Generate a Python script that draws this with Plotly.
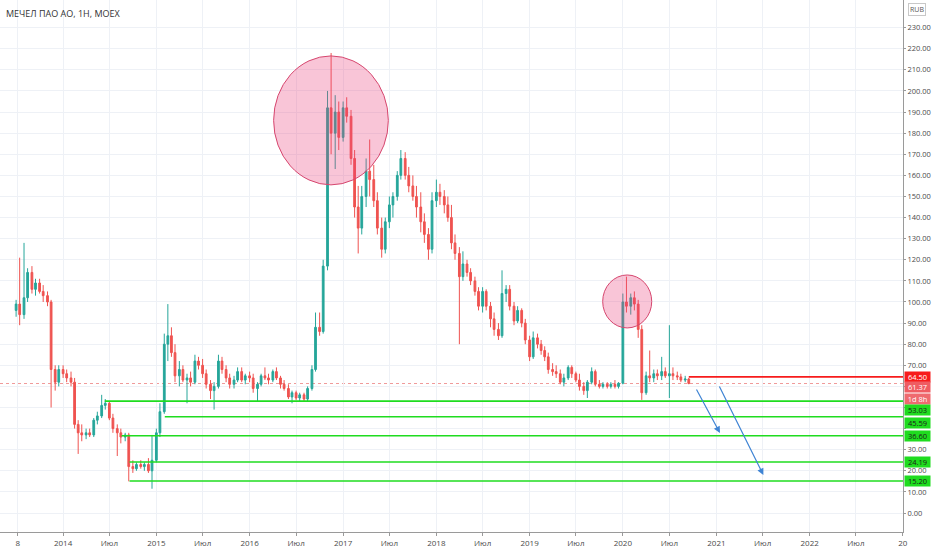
import pandas as pd
import plotly.graph_objects as go

# semi-monthly candles, Jul 2013 .. Sep 2020
dates = pd.date_range("2013-07-01", "2020-09-15", freq="SMS")

opens = [
    96, 99, 94, 102, 114, 106, 109, 105, 103, 100, 68, 62,  # 2013 H2
    68, 66, 64, 62, 42, 38, 37, 38, 37, 44, 46, 51, 52, 45, 40, 38, 36, 37, 22, 21, 23, 22, 23, 20,  # 2014
    25, 38, 48, 80, 84, 76, 65, 68, 63, 64, 62, 72, 70, 66, 61, 58, 60, 72, 68, 64, 61, 63, 67, 63,  # 2015
    65, 64, 59, 61, 65, 64, 63, 67, 64, 61, 59, 55, 57, 54.5, 56, 54, 59, 68, 88, 86, 117, 192, 180, 190,  # 2016
    178, 192, 188, 168, 145, 135, 150, 162, 158, 148, 135, 125, 138, 146, 150, 160, 168, 160, 155, 150, 145, 138, 132, 125,  # 2017
    148, 152, 150, 146, 140, 128, 123, 112, 118, 114, 110, 105, 98, 105, 98, 92, 87, 84, 104, 106, 98, 91, 96, 90,  # 2018
    82, 74, 83, 80, 77, 74, 68, 67, 66, 62, 64, 69, 66, 63, 60, 58, 62, 67, 61, 60, 61, 60, 61, 60,  # 2019
    61.5, 100, 98, 102, 99, 87, 57, 65, 64, 66, 65, 67, 65, 66, 65, 64.5, 63, 63.5,  # 2020
]
highs = [
    101, 121, 128, 116, 117, 111, 111, 108, 105, 101, 70, 70,
    70, 68, 67, 64, 44, 42, 40, 40, 45, 48, 56, 54, 53, 47, 42, 40, 38, 38, 25, 24, 25, 24, 26, 37,
    40, 52, 85, 99, 88, 80, 72, 70, 66, 67, 75, 74, 73, 68, 63, 62, 75, 74, 70, 66, 65, 69, 69, 66,
    67, 66, 62, 66, 69, 66, 68, 69, 65, 63, 61, 58, 58, 57, 57, 60, 70, 95, 95, 120, 200, 218, 198, 195,
    195, 197, 191, 172, 155, 155, 168, 177, 165, 152, 140, 140, 150, 152, 162, 172, 171, 164, 160, 155, 152, 142, 135, 152,
    158, 156, 153, 150, 146, 132, 126, 124, 120, 116, 112, 107, 107, 106, 100, 95, 90, 115, 108, 108, 100, 98, 97, 92,
    84, 86, 85, 82, 79, 76, 71, 70, 68, 66, 70, 70, 67, 66, 62, 63, 69, 68, 63, 62, 62, 62, 63, 62,
    104, 112, 104, 105, 101, 89, 67, 77, 68, 68, 74, 69, 89, 69, 67, 66, 65, 64,
]
lows = [
    93, 89, 92, 100, 104, 103, 104, 100, 98, 50, 58, 60,
    64, 62, 60, 40, 28, 34, 35, 36, 36, 42, 45, 49, 44, 38, 27, 33, 34, 15, 19, 20, 21, 20, 19, 11.5,
    24, 36, 47, 72, 74, 62, 60, 62, 52, 60, 61, 68, 64, 59, 54, 49, 59, 66, 62, 59, 59, 62, 62, 61,
    62, 57, 53, 60, 63, 61, 62, 63, 59, 58, 54, 52, 53.5, 53, 53, 53, 58, 67, 84, 85, 115, 170, 163, 172,
    176, 185, 165, 140, 123, 132, 145, 150, 145, 132, 121, 123, 135, 140, 148, 158, 158, 152, 148, 140, 133, 128, 120, 123,
    145, 146, 142, 138, 125, 120, 80, 110, 112, 108, 103, 96, 95, 96, 88, 84, 82, 83, 100, 96, 89, 90, 88, 80,
    72, 73, 78, 75, 72, 66, 65, 64, 61, 60, 63, 64, 62, 58, 56, 54.5, 61, 60, 59, 59, 59, 59, 59, 59,
    61, 95, 94, 96, 83, 53.6, 56, 62, 62, 63, 63, 64, 54.5, 63, 63, 62, 62, 61,
]
closes = [
    99, 94, 102, 114, 106, 109, 105, 103, 100, 68, 62, 68,
    66, 64, 62, 42, 38, 37, 38, 37, 44, 46, 51, 52, 45, 40, 38, 36, 37, 22, 21, 23, 22, 23, 20, 25,
    38, 48, 80, 84, 76, 65, 68, 63, 64, 62, 72, 70, 66, 61, 58, 60, 72, 68, 64, 61, 63, 67, 63, 65,
    64, 59, 61, 65, 64, 63, 67, 64, 61, 59, 55, 57, 54.5, 56, 54, 59, 68, 88, 86, 117, 192, 180, 190, 178,
    192, 188, 168, 145, 135, 150, 162, 158, 148, 135, 125, 138, 146, 150, 160, 168, 160, 155, 150, 145, 138, 132, 125, 148,
    152, 150, 146, 140, 128, 123, 112, 118, 114, 110, 105, 98, 105, 98, 92, 87, 84, 104, 106, 98, 91, 96, 90, 82,
    74, 83, 80, 77, 74, 68, 67, 66, 62, 64, 69, 66, 63, 60, 58, 62, 67, 61, 60, 61, 60, 61, 60, 61.5,
    100, 98, 102, 99, 87, 57, 65, 64, 66, 65, 67, 65, 66, 65, 64.5, 63, 63.5, 61.37,
]

# horizontal levels drawn on the chart
support_levels = [53.03, 45.59, 36.60, 24.19, 15.20]
support_starts = ["2014-06-13", "2015-02-03", "2014-08-18", "2014-09-18", "2014-09-18"]
resistance_level = 64.50
resistance_start = "2020-09-15"
last_price = 61.37
countdown = "1d 8h"

# highlighted ellipses: (x0, x1, y0, y1)
ellipses = [
    ("2016-04-04", "2017-06-27", 155.5, 216.6),
    ("2019-10-14", "2020-04-23", 87.7, 112.8),
]
# forecast arrows: (tail date, tail price, head date, head price)
arrows = [
    ("2020-10-12", 59.2, "2021-01-15", 37.9),
    ("2021-01-10", 60.7, "2021-07-04", 18.0),
]

x_tick_dates = ["2013-07-08", "2014-01-01", "2014-07-01", "2015-01-01", "2015-07-01", "2016-01-01",
                "2016-07-01", "2017-01-01", "2017-07-01", "2018-01-01", "2018-07-01", "2019-01-01",
                "2019-07-01", "2020-01-01", "2020-07-01", "2021-01-01", "2021-07-01", "2022-01-01",
                "2022-07-01", "2023-01-01"]
x_tick_text = ["8", "2014", "Июл", "2015", "Июл", "2016", "Июл", "2017", "Июл", "2018", "Июл", "2019",
               "Июл", "2020", "Июл", "2021", "Июл", "2022", "Июл", "20"]
price_ticks = list(range(0, 240, 10))

GREEN = "#1fdc1f"
RED = "#f71c1c"
GRID = "#eef1f6"
FONT = "Open Sans"

fig = go.Figure()

fig.add_trace(go.Candlestick(
    x=dates, open=opens, high=highs, low=lows, close=closes,
    increasing=dict(line=dict(color="#26a69a", width=1), fillcolor="#26a69a"),
    decreasing=dict(line=dict(color="#ef5350", width=1), fillcolor="#ef5350"),
    whiskerwidth=0, showlegend=False, hoverinfo="skip",
))

shapes = []
# last price dotted line
shapes.append(dict(type="line", xref="paper", x0=0, x1=1, yref="y", y0=last_price, y1=last_price,
                   line=dict(color="#f09a9a", width=1, dash="dot"), layer="between"))
for lvl, start in zip(support_levels, support_starts):
    shapes.append(dict(type="line", xref="x", x0=start, x1="2023-06-01", yref="y", y0=lvl, y1=lvl,
                       line=dict(color=GREEN, width=1.6)))
shapes.append(dict(type="line", xref="x", x0=resistance_start, x1="2023-06-01", yref="y",
                   y0=resistance_level, y1=resistance_level, line=dict(color=RED, width=1.6)))
for x0, x1, y0, y1 in ellipses:
    shapes.append(dict(type="circle", xref="x", yref="y", x0=x0, x1=x1, y0=y0, y1=y1,
                       fillcolor="rgba(236,64,122,0.3)", line=dict(color="rgb(214,70,110)", width=1)))

annotations = []
for tx, ty, hx, hy in arrows:
    annotations.append(dict(x=hx, y=hy, ax=tx, ay=ty, xref="x", yref="y", axref="x", ayref="y",
                            text="", showarrow=True, arrowhead=2, arrowsize=1.1, arrowwidth=1.2,
                            arrowcolor="#3f84d4"))

# price scale labels (shifted like the price scale stacks them)
def price_label(y, text, bg, fg, shift=0):
    return dict(xref="paper", x=1, xanchor="left", xshift=1, yref="y", y=y, yshift=shift,
                text=text, showarrow=False, bgcolor=bg, width=25, height=10, borderpad=0,
                font=dict(family=FONT, size=7.5, color=fg))

annotations.append(price_label(resistance_level, f"{resistance_level:.2f}", RED, "white"))
annotations.append(price_label(last_price, f"{last_price:.2f}", "#ef5c62", "white", -3))
annotations.append(price_label(last_price, countdown, "#ef6a6f", "white", -15))
support_shifts = [-9, -6, 0, 0, 0]
for lvl, sh in zip(support_levels, support_shifts):
    annotations.append(price_label(lvl, f"{lvl:.2f}", GREEN, "#1b1b1b", sh))

annotations.append(dict(xref="paper", yref="paper", x=0.004, y=0.99, xanchor="left", yanchor="top",
                        text="МЕЧЕЛ ПАО АО, 1Н, MOEX", showarrow=False,
                        font=dict(family=FONT, size=9, color="#333333")))
annotations.append(dict(xref="paper", yref="paper", x=1, y=0.995, xanchor="left", yanchor="top",
                        xshift=5, text="RUB", showarrow=False, bordercolor="#c8c8c8", borderwidth=1,
                        borderpad=1, font=dict(family=FONT, size=7, color="#555555")))

fig.update_layout(
    width=932, height=550,
    margin=dict(l=0, r=29, t=0, b=18),
    plot_bgcolor="white", paper_bgcolor="white",
    shapes=shapes, annotations=annotations,
    xaxis=dict(
        type="date", range=["2013-04-29", "2023-01-01 12:00"],
        rangeslider=dict(visible=False),
        tickmode="array", tickvals=x_tick_dates, ticktext=x_tick_text,
        showgrid=True, gridcolor=GRID, gridwidth=1,
        showline=True, linecolor="#9a9a9a", linewidth=1,
        ticks="outside", ticklen=3, tickcolor="#9a9a9a",
        tickfont=dict(family=FONT, size=8, color="#4a4a4a"),
        automargin=False, zeroline=False,
    ),
    yaxis=dict(
        side="right", range=[-9.0, 243.1],
        tickmode="array", tickvals=price_ticks,
        ticktext=["" if v in (40, 50, 60) else f"{v:.2f}" for v in price_ticks],
        showgrid=True, gridcolor=GRID, gridwidth=1,
        showline=True, linecolor="#9a9a9a", linewidth=1,
        ticks="outside", ticklen=2, tickcolor="#9a9a9a",
        tickfont=dict(family=FONT, size=7.5, color="#4a4a4a"),
        automargin=False, zeroline=False,
    ),
)

# the page's default body margin would shift the chart; drop it
fig.write_html("out.html", config={"displayModeBar": False},
               post_script="document.body.style.margin='0';document.body.style.overflow='hidden';")
